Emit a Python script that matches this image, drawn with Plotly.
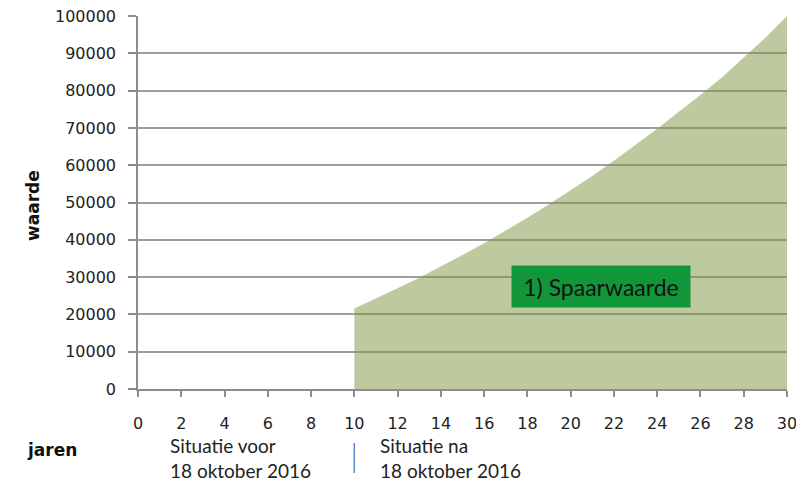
import plotly.graph_objects as go

years = [10, 11, 12, 13, 14, 15, 16, 17, 18, 19, 20, 21, 22, 23, 24, 25, 26, 27, 28, 29, 30]
spaarwaarde = [21600, 24200, 27000, 29800, 32800, 35900, 39100, 42400, 45900, 49500,
               53200, 57100, 61200, 65400, 69800, 74300, 78800, 83600, 88800, 94200, 100000]
x_ticks = list(range(0, 31, 2))
y_ticks = list(range(0, 100001, 10000))
series_name = "1) Spaarwaarde"
switch_year = 10

fig = go.Figure()
fig.add_trace(go.Scatter(
    x=years, y=spaarwaarde, mode="lines", line=dict(width=0),
    fill="tozeroy", fillcolor="rgba(128,154,70,0.52)", name=series_name,
    hoverinfo="x+y",
))

tickfont = dict(family="DejaVu Sans", size=16, color="#222222")
fig.update_layout(
    width=796, height=474,
    margin=dict(l=130, r=17, t=8, b=93),
    paper_bgcolor="white", plot_bgcolor="white",
    showlegend=False,
    xaxis=dict(range=[0, 30], tickvals=x_ticks, ticktext=[str(v) for v in x_ticks],
               showgrid=False, zeroline=False, showline=True, linecolor="#8c8c8c", linewidth=1.5,
               ticks="outside", ticklen=6, tickcolor="#8c8c8c", tickwidth=1.5,
               tickfont=tickfont, ticklabelstandoff=13, automargin=False,
               ticklabeloverflow="allow"),
    yaxis=dict(range=[0, 100000], tickvals=y_ticks, ticktext=[str(v) for v in y_ticks],
               showgrid=True, gridcolor="#9e9e9e", gridwidth=1.5, zeroline=False,
               showline=True, linecolor="#8c8c8c", linewidth=1.5,
               ticks="outside", ticklen=8, tickcolor="#8c8c8c", tickwidth=1.5,
               tickfont=tickfont, ticklabelstandoff=9, automargin=False,
               ticklabeloverflow="allow"),
)

fig.add_annotation(x=21.4, y=27500, xref="x", yref="y", text=series_name, showarrow=False,
                   font=dict(family="Lato", size=23, color="#111111"),
                   bgcolor="#12963a", borderpad=4, width=170, height=33)
fig.add_annotation(x=-0.162, y=0.493, xref="paper", yref="paper", text="<b>waarde</b>",
                   xanchor="center", yanchor="middle",
                   textangle=-90, showarrow=False, font=dict(family="DejaVu Sans", size=17, color="#111111"))
fig.add_annotation(x=-0.1325, y=-0.1635, xref="paper", yref="paper", text="<b>jaren</b>",
                   xanchor="center", yanchor="middle",
                   showarrow=False, font=dict(family="DejaVu Sans", size=17, color="#111111"))
fig.add_annotation(x=1.4, y=-0.186, xref="x", yref="paper", xanchor="left", yanchor="middle", align="left",
                   text="Situatie voor<br>18 oktober 2016", showarrow=False,
                   font=dict(family="Lato", size=19, color="#222222"))
fig.add_annotation(x=switch_year + 1.1, y=-0.186, xref="x", yref="paper", xanchor="left", yanchor="middle",
                   align="left", text="Situatie na<br>18 oktober 2016", showarrow=False,
                   font=dict(family="Lato", size=19, color="#222222"))
fig.add_shape(type="line", x0=switch_year, x1=switch_year, xref="x", yref="paper",
              y0=-0.145, y1=-0.225, line=dict(color="#5b86cc", width=1.5))

fig.write_html("out.html")
